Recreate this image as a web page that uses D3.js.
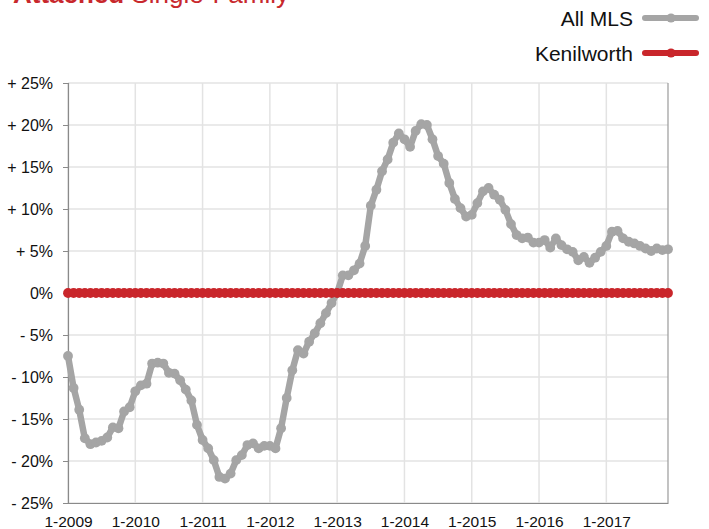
<!DOCTYPE html>
<html>
<head>
<meta charset="utf-8">
<script src="https://cdn.jsdelivr.net/npm/d3@7"></script>
<style>
  body { margin: 0; background: #fff; }
  svg { display: block; font-family: "Liberation Sans", Arial, Helvetica, sans-serif; }
</style>
</head>
<body>
<div id="chart"></div>
<script>
const width = 709, height = 529;
const margin = {top: 83, right: 41, bottom: 26, left: 68};

// x tick labels (one per January)
const yearLabels = ["1-2009", "1-2010", "1-2011", "1-2012", "1-2013", "1-2014", "1-2015", "1-2016", "1-2017"];
const yTicks = [-25, -20, -15, -10, -5, 0, 5, 10, 15, 20, 25];

// monthly % change, Jan 2009 .. Dec 2017
const allMLS = [
  -7.5, -11.3, -13.9, -17.3, -18.0, -17.8, -17.6, -17.2, -16.0, -16.1, -14.1, -13.6,
  -11.7, -11.0, -10.8, -8.4, -8.3, -8.4, -9.5, -9.6, -10.4, -11.5, -12.8, -15.7,
  -17.5, -18.5, -19.9, -21.9, -22.1, -21.5, -19.9, -19.3, -18.1, -17.9, -18.5, -18.2,
  -18.2, -18.5, -16.1, -12.5, -9.2, -6.8, -7.2, -5.8, -4.8, -3.6, -2.4, -1.2,
  0.0, 2.1, 2.1, 2.7, 3.5, 5.6, 10.4, 12.3, 14.5, 15.9, 17.9, 19.0,
  18.3, 17.4, 19.3, 20.1, 20.0, 18.3, 16.3, 15.4, 13.1, 11.2, 10.1, 9.1,
  9.3, 10.7, 12.1, 12.5, 11.7, 11.1, 9.9, 8.2, 6.9, 6.5, 6.6, 6.0,
  6.0, 6.3, 5.4, 6.5, 5.7, 5.2, 4.9, 3.9, 4.3, 3.6, 4.2, 4.9,
  5.6, 7.3, 7.4, 6.5, 6.1, 5.9, 5.6, 5.3, 5.0, 5.3, 5.1, 5.2
];
const kenilworth = [
  0, 0, 0, 0, 0, 0, 0, 0, 0, 0, 0, 0,
  0, 0, 0, 0, 0, 0, 0, 0, 0, 0, 0, 0,
  0, 0, 0, 0, 0, 0, 0, 0, 0, 0, 0, 0,
  0, 0, 0, 0, 0, 0, 0, 0, 0, 0, 0, 0,
  0, 0, 0, 0, 0, 0, 0, 0, 0, 0, 0, 0,
  0, 0, 0, 0, 0, 0, 0, 0, 0, 0, 0, 0,
  0, 0, 0, 0, 0, 0, 0, 0, 0, 0, 0, 0,
  0, 0, 0, 0, 0, 0, 0, 0, 0, 0, 0, 0,
  0, 0, 0, 0, 0, 0, 0, 0, 0, 0, 0, 0
];

const grey = "#a5a5a5", red = "#c9262b";

const svg = d3.select("#chart").append("svg")
    .attr("width", width)
    .attr("height", height);

const x = d3.scaleLinear()
    .domain([0, allMLS.length - 1])
    .range([margin.left, width - margin.right]);

const y = d3.scaleLinear()
    .domain([-25, 25])
    .range([height - margin.bottom, margin.top]);

// gridlines
svg.append("g")
    .selectAll("line")
    .data(yTicks)
    .enter()
    .append("line")
    .attr("x1", x(0)).attr("x2", x.range()[1])
    .attr("y1", d => y(d)).attr("y2", d => y(d))
    .style("stroke", "#e3e3e3")
    .style("stroke-width", 1.5);

svg.append("g")
    .selectAll("line")
    .data(yearLabels)
    .enter()
    .append("line")
    .attr("x1", (d, i) => x(i * 12)).attr("x2", (d, i) => x(i * 12))
    .attr("y1", y(25)).attr("y2", y(-25))
    .style("stroke", "#e3e3e3")
    .style("stroke-width", 1.5);

// frame: left axis, bottom axis, right edge
let yAxis = svg.append("g")
    .attr("transform", `translate(${margin.left}, 0)`)
    .call(d3.axisLeft(y).tickValues(yTicks).tickSize(5).tickPadding(10)
        .tickFormat(d => d > 0 ? "+ " + d + "%" : d < 0 ? "- " + Math.abs(d) + "%" : "0%"));
yAxis.select(".domain").style("stroke", "#8a8a8a").style("stroke-width", 1.2);
yAxis.selectAll(".tick line").style("stroke", "#8a8a8a");
yAxis.selectAll("text").style("font-size", "16px").style("fill", "#111");

let xAxis = svg.append("g")
    .attr("transform", `translate(0, ${y(-25)})`)
    .call(d3.axisBottom(x).tickValues(yearLabels.map((d, i) => i * 12)).tickSize(0).tickPadding(13)
        .tickFormat((d, i) => yearLabels[i]));
xAxis.select(".domain").style("stroke", "#8a8a8a").style("stroke-width", 1.2);
xAxis.selectAll("text").style("font-size", "15.5px").style("fill", "#111");

svg.append("line")
    .attr("x1", x.range()[1]).attr("x2", x.range()[1])
    .attr("y1", y(25)).attr("y2", y(-25))
    .style("stroke", "#9a9a9a")
    .style("stroke-width", 1.2);

// series
const line = d3.line()
    .x((d, i) => x(i))
    .y(d => y(d));

function drawSeries(values, color) {
    svg.append("path")
        .datum(values)
        .attr("d", line)
        .style("fill", "none")
        .style("stroke", color)
        .style("stroke-width", 6.5)
        .style("stroke-linejoin", "round");
    svg.append("g")
        .selectAll("circle")
        .data(values)
        .enter()
        .append("circle")
        .attr("cx", (d, i) => x(i))
        .attr("cy", d => y(d))
        .attr("r", 4.9)
        .style("fill", color);
}

drawSeries(allMLS, grey);
drawSeries(kenilworth, red);

// title (cut off by the top edge, as in the original)
let title = svg.append("text")
    .attr("x", 13)
    .attr("y", 3)
    .style("font-size", "26px")
    .style("fill", "#c8282d");
title.append("tspan").style("font-weight", "bold").text("Attached");
title.append("tspan").text(" Single-Family");

// legend
const legend = [{name: "All MLS", color: grey, y: 18}, {name: "Kenilworth", color: red, y: 53}];
let lg = svg.append("g").selectAll("g").data(legend).enter().append("g");
lg.append("text")
    .attr("x", 633)
    .attr("y", d => d.y + 8)
    .style("text-anchor", "end")
    .style("font-size", "21px")
    .style("fill", "#111")
    .text(d => d.name);
lg.append("line")
    .attr("x1", 645).attr("x2", 696)
    .attr("y1", d => d.y).attr("y2", d => d.y)
    .style("stroke", d => d.color)
    .style("stroke-width", 6)
    .style("stroke-linecap", "round");
lg.append("circle")
    .attr("cx", 671)
    .attr("cy", d => d.y)
    .attr("r", 4.6)
    .style("fill", d => d.color);
</script>
</body>
</html>
